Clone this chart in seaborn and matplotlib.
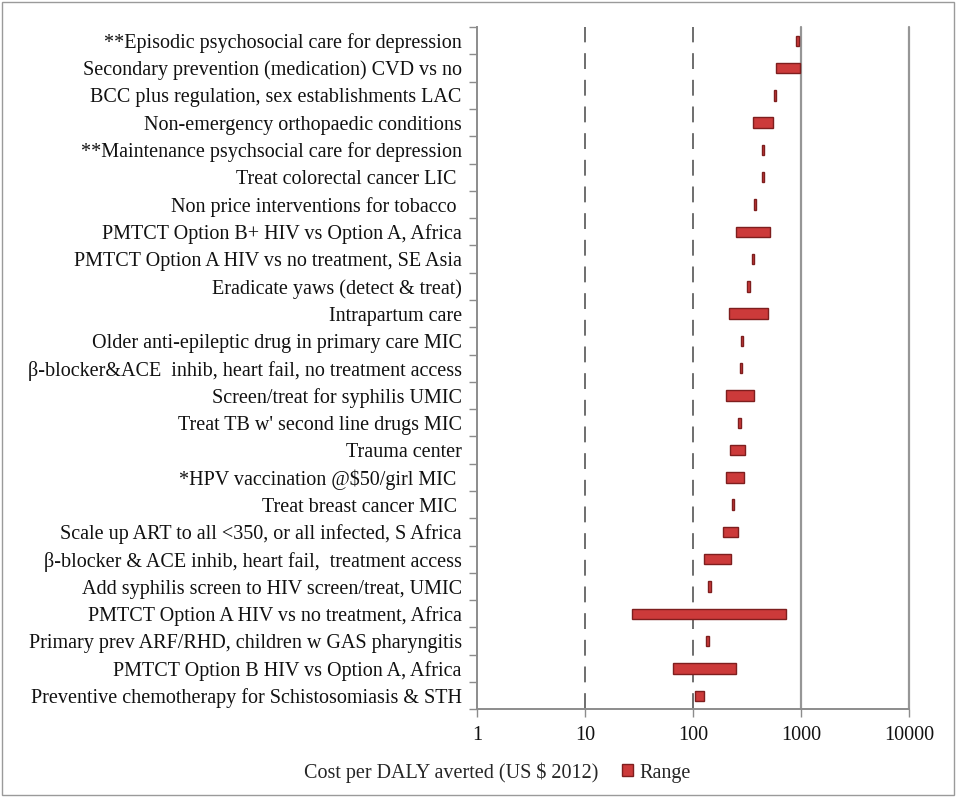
import matplotlib
matplotlib.use("Agg")
import matplotlib.pyplot as plt
import seaborn as sns
import pandas as pd
from matplotlib.lines import Line2D
from matplotlib.patches import Patch, Rectangle

# Interventions, listed top to bottom
interventions = [
    "**Episodic psychosocial care for depression",
    "Secondary prevention (medication) CVD vs no",
    "BCC plus regulation, sex establishments LAC",
    "Non-emergency orthopaedic conditions",
    "**Maintenance psychsocial care for depression",
    "Treat colorectal cancer LIC ",
    "Non price interventions for tobacco ",
    "PMTCT Option B+ HIV vs Option A, Africa",
    "PMTCT Option A HIV vs no treatment, SE Asia",
    "Eradicate yaws (detect & treat)",
    "Intrapartum care",
    "Older anti-epileptic drug in primary care MIC",
    "β-blocker&ACE  inhib, heart fail, no treatment access",
    "Screen/treat for syphilis UMIC",
    "Treat TB w' second line drugs MIC",
    "Trauma center",
    "*HPV vaccination @$50/girl MIC ",
    "Treat breast cancer MIC ",
    "Scale up ART to all <350, or all infected, S Africa",
    "β-blocker & ACE inhib, heart fail,  treatment access",
    "Add syphilis screen to HIV screen/treat, UMIC",
    "PMTCT Option A HIV vs no treatment, Africa",
    "Primary prev ARF/RHD, children w GAS pharyngitis",
    "PMTCT Option B HIV vs Option A, Africa",
    "Preventive chemotherapy for Schistosomiasis & STH",
]

# Cost per DALY averted (US $ 2012): lower and upper end of range
cost_low = [900, 580, 560, 360, 435, 435, 365, 250, 350, 315, 215, 275, 270,
            200, 260, 220, 200, 228, 190, 125, 137, 27, 132, 65, 105]
cost_high = [950, 970, 590, 550, 452, 452, 385, 510, 367, 335, 495, 290, 285,
             370, 277, 305, 295, 238, 260, 222, 145, 725, 141, 252, 125]

x_ticks = [1, 10, 100, 1000, 10000]
x_tick_labels = ["1", "10", "100", "1000", "10000"]

df = pd.DataFrame({"intervention": interventions, "low": cost_low, "high": cost_high})

sns.set_theme(style="white")
plt.rcParams["font.family"] = ["Liberation Serif", "DejaVu Serif"]

BAR_FILL = "#CC3A3A"
BAR_EDGE = "#7E1E1E"
AXIS_GRAY = "#8C8C8C"
FONT_SIZE = 14.5

fig = plt.figure(figsize=(9.56, 7.97), dpi=100)
ax = fig.add_axes([0.499, 0.110, 0.452, 0.856])

sns.barplot(data=df, x="high", y="intervention", color=BAR_FILL, saturation=1,
            width=0.38, edgecolor=BAR_EDGE, linewidth=1, ax=ax)

# Turn each bar into a floating range from low to high
for patch, lo, hi in zip(ax.patches, df["low"], df["high"]):
    patch.set_x(lo)
    patch.set_width(hi - lo)

ax.set_xscale("log")
ax.set_xlim(1, 10000)
ax.set_ylim(len(df) - 0.5, -0.5)

# Reference lines
for v in (10, 100):
    ax.axvline(v, color="#555555", lw=1.2, ls=(0, (9.5, 6.5)), zorder=0)
for v in (1000, 10000):
    ax.axvline(v, color="#969696", lw=1.6, zorder=0, clip_on=False)

ax.set_xticks(x_ticks)
ax.set_xticklabels(x_tick_labels)
ax.minorticks_off()
ax.set_yticks(range(len(df)))
ax.set_yticks([i + 0.5 for i in range(-1, len(df))], minor=True)
ax.tick_params(axis="y", which="major", length=0, pad=11, labelsize=FONT_SIZE,
               labelcolor="#111111")
ax.tick_params(axis="y", which="minor", left=True, length=6, width=1,
               color=AXIS_GRAY, direction="out")
ax.tick_params(axis="x", which="major", bottom=True, length=6, width=1,
               color=AXIS_GRAY, direction="out", pad=6, labelsize=FONT_SIZE,
               labelcolor="#111111")
ax.set_xlabel("")
ax.set_ylabel("")

for side in ("top", "right"):
    ax.spines[side].set_visible(False)
for side in ("left", "bottom"):
    ax.spines[side].set_color(AXIS_GRAY)
    ax.spines[side].set_linewidth(1.4)

handles = [Line2D([], [], color="none"),
           Patch(facecolor=BAR_FILL, edgecolor=BAR_EDGE)]
labels = ["Cost per DALY averted (US $ 2012)", "Range"]
fig.legend(handles, labels, loc="center", bbox_to_anchor=(0.511, 0.031),
           ncol=2, frameon=False, fontsize=FONT_SIZE, handlelength=0.55,
           handleheight=0.55, handletextpad=0.3, columnspacing=1.2)

# Thin frame around the whole chart
fig.patches.append(Rectangle((0.002, 0.002), 0.996, 0.996, transform=fig.transFigure,
                             fill=False, edgecolor="#9A9A9A", lw=1))

fig.savefig("out.png", dpi=100)
